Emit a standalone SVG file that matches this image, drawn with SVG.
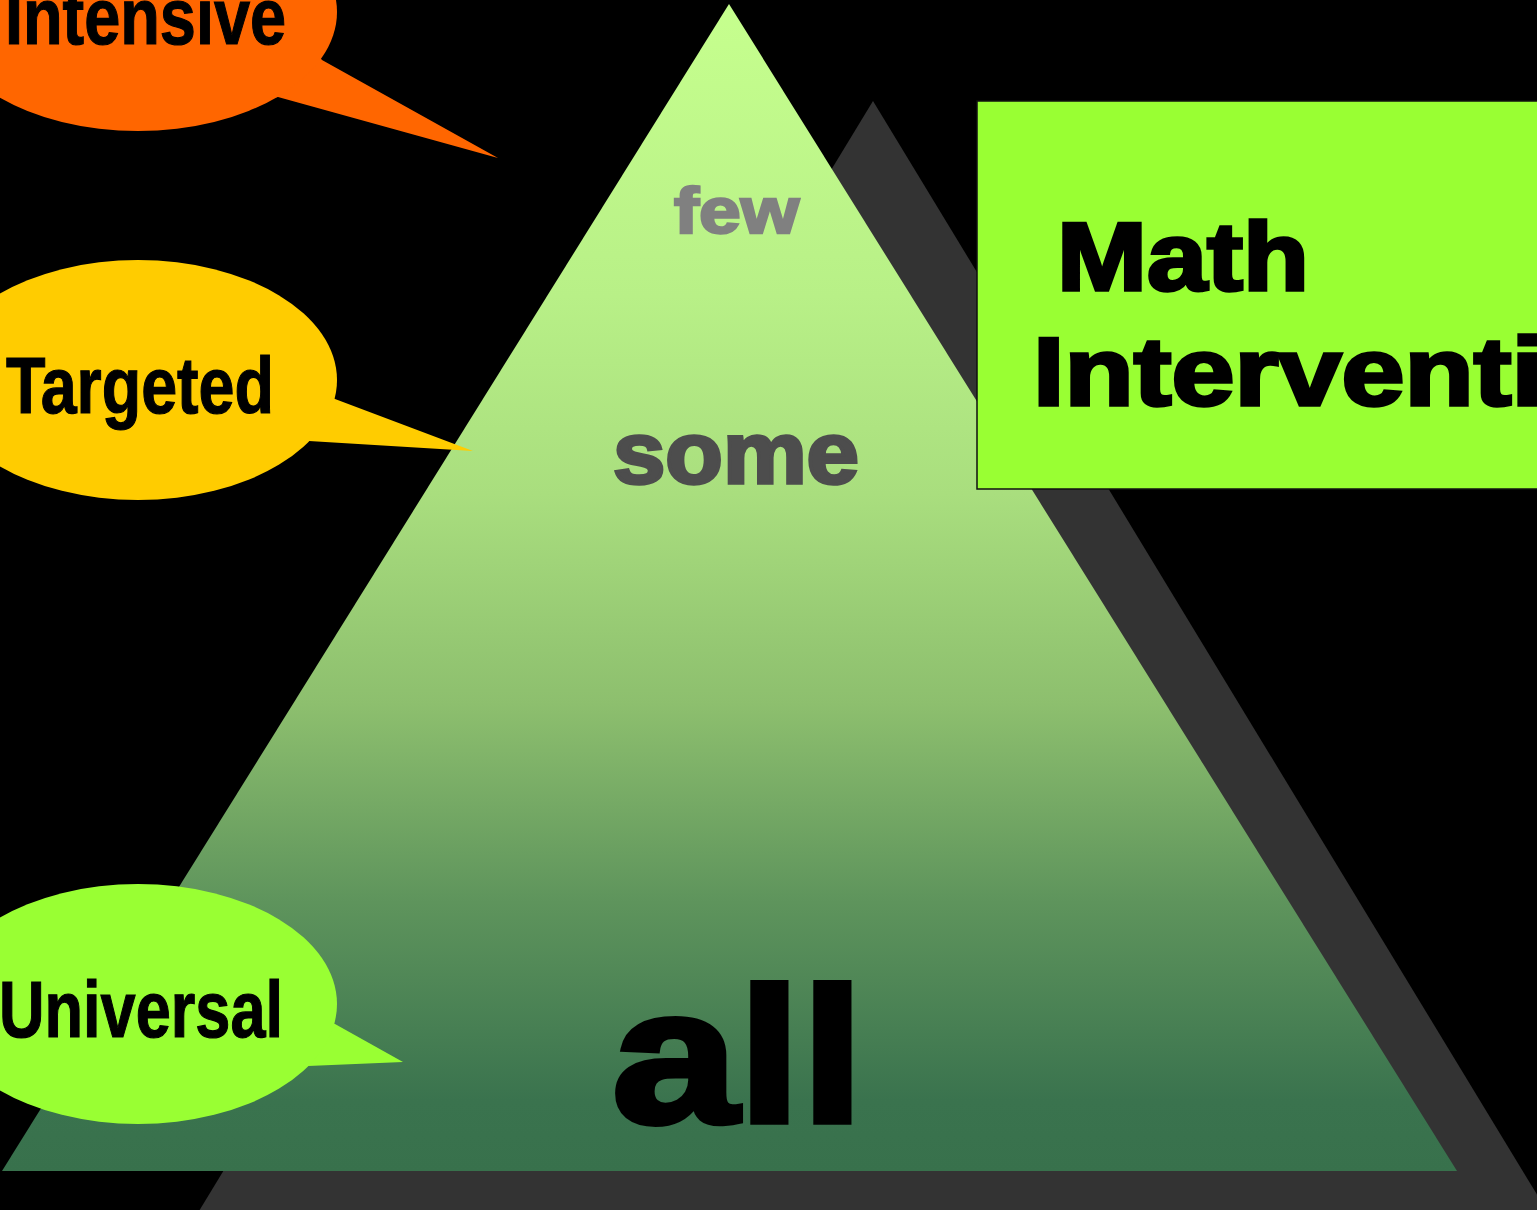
<svg xmlns="http://www.w3.org/2000/svg" width="1537" height="1210" viewBox="0 0 1537 1210">
<defs>
<linearGradient id="pyr" x1="0" y1="4" x2="0" y2="1171" gradientUnits="userSpaceOnUse">
<stop offset="0" stop-color="#c6ff8e"/>
<stop offset="0.25" stop-color="#b8f087"/>
<stop offset="0.42" stop-color="#a9de7e"/>
<stop offset="0.6" stop-color="#8dbf6e"/>
<stop offset="0.77" stop-color="#5e945c"/>
<stop offset="0.94" stop-color="#3a734e"/>
<stop offset="1" stop-color="#38714c"/>
</linearGradient>
<style>
.heavy{font-family:"Liberation Sans",Arial,sans-serif;font-weight:bold;}
.narrow{font-family:"Liberation Sans",Arial,sans-serif;font-weight:bold;fill:#000;stroke:#000;stroke-width:1.2;}
</style>
</defs>
<rect width="1537" height="1210" fill="#000"/>
<g id="shadow">
<polygon points="873,101 145,1300 1601,1300" fill="#333333"/>
</g>
<g id="pyramid">
<polygon points="729,4 2,1171 1457,1171" fill="url(#pyr)"/>
<text class="heavy" x="674" y="233" font-size="64" fill="#808080" stroke="#808080" stroke-width="2.5" textLength="125" lengthAdjust="spacingAndGlyphs">few</text>
<text class="heavy" x="613" y="483" font-size="88" fill="#4d4d4d" stroke="#4d4d4d" stroke-width="3.5" textLength="246" lengthAdjust="spacingAndGlyphs">some</text>
<text class="heavy" x="612" y="1122" font-size="192" fill="#000" stroke="#000" stroke-width="6" textLength="252" lengthAdjust="spacingAndGlyphs">all</text>
</g>
<g id="title">
<rect x="977" y="101" width="600" height="388" fill="#99ff33" stroke="#111" stroke-width="1.5"/>
<text class="heavy" x="1057" y="290" font-size="97" fill="#000" stroke="#000" stroke-width="3.5" textLength="252" lengthAdjust="spacingAndGlyphs">Math</text>
<text class="heavy" x="1033" y="405" font-size="97" fill="#000" stroke="#000" stroke-width="3.5" textLength="510" lengthAdjust="spacingAndGlyphs">Interventi</text>
</g>
<g id="connectors">
<polygon points="310,45 322,60 498,158 278,97 260,100" fill="#ff6600"/>
<polygon points="325,395 335,399 473,451 309,441 300,440" fill="#ffcc00"/>
<polygon points="325,1020 335,1024 403,1062 308,1066 300,1060" fill="#99ff33"/>
</g>
<g id="intensive">
<ellipse cx="138" cy="12" rx="199" ry="119" fill="#ff6600"/>
<text class="narrow" x="5" y="44" font-size="80" textLength="281" lengthAdjust="spacingAndGlyphs">Intensive</text>
</g>
<g id="targeted">
<ellipse cx="138" cy="380" rx="199" ry="120" fill="#ffcc00"/>
<text class="narrow" x="6" y="413" font-size="80" textLength="268" lengthAdjust="spacingAndGlyphs">Targeted</text>
</g>
<g id="universal">
<ellipse cx="138" cy="1004" rx="199" ry="120" fill="#99ff33"/>
<text class="narrow" x="-1" y="1037" font-size="80" textLength="284" lengthAdjust="spacingAndGlyphs">Universal</text>
</g>
</svg>
